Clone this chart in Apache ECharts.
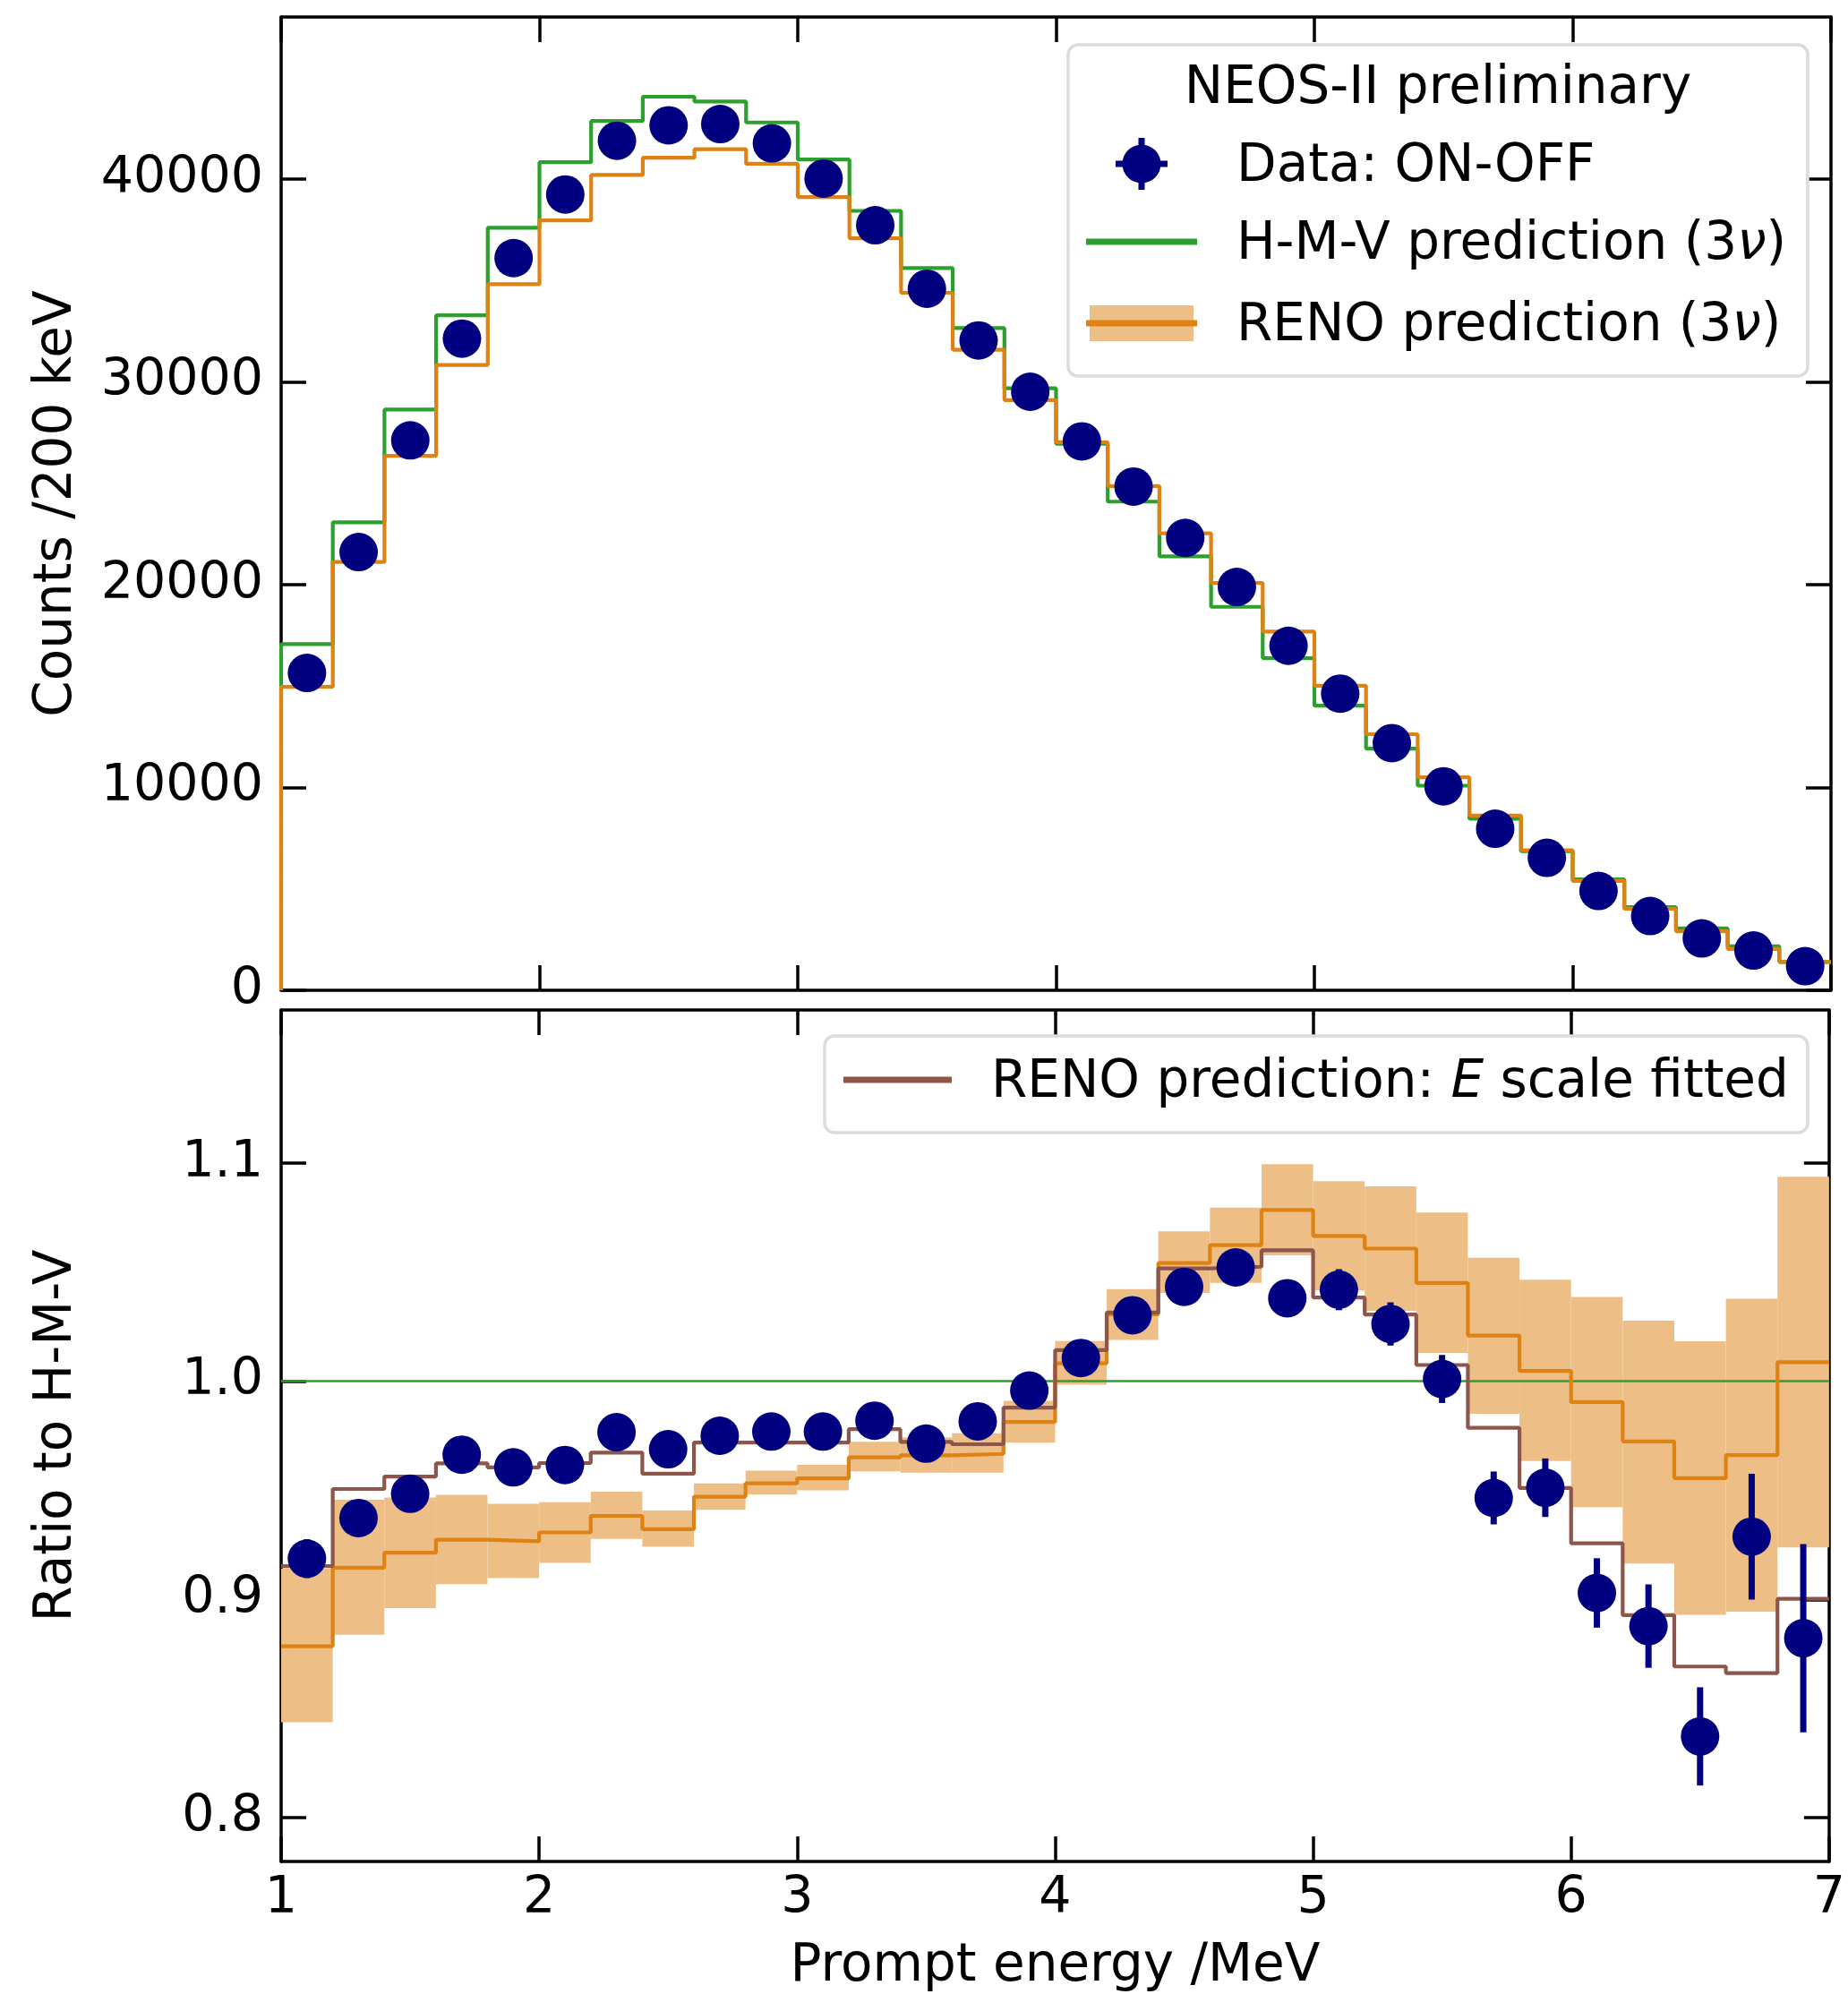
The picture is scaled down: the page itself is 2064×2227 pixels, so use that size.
<!DOCTYPE html>
<html>
<head>
<meta charset="utf-8">
<script src="https://cdn.jsdelivr.net/npm/echarts@6/dist/echarts.min.js"></script>
<style>
    html, body { margin: 0; padding: 0; background: #fff; }
    #chart { width: 2064px; height: 2227px; }
</style>
</head>
<body>
<div id="chart"></div>
<script>
// 200 keV bins, 1 - 7 MeV
const binEdges = [1.0, 1.2, 1.4, 1.6, 1.8, 2.0, 2.2, 2.4, 2.6, 2.8, 3.0, 3.2, 3.4, 3.6, 3.8, 4.0,
    4.2, 4.4, 4.6, 4.8, 5.0, 5.2, 5.4, 5.6, 5.8, 6.0, 6.2, 6.4, 6.6, 6.8, 7.0];
const binCenters = [1.1, 1.3, 1.5, 1.7, 1.9, 2.1, 2.3, 2.5, 2.7, 2.9, 3.1, 3.3, 3.5, 3.7, 3.9,
    4.1, 4.3, 4.5, 4.7, 4.9, 5.1, 5.3, 5.5, 5.7, 5.9, 6.1, 6.3, 6.5, 6.7, 6.9];

// top panel: counts / 200 keV
const countsHMV = [17070, 23080, 28640, 33290, 37610, 40840, 42870, 44070, 43830, 42800, 40970, 38440,
    35620, 32660, 29690, 26950, 24100, 21400, 18910, 16380, 14040, 11920, 10090, 8460, 6860, 5470,
    4100, 3050, 2170, 1400];
const countsRENO = [14960, 21120, 26360, 30840, 34820, 37970, 40210, 41060, 41480, 40760, 39120, 37090,
    34400, 31590, 29110, 27030, 24870, 22540, 20090, 17690, 15020, 12630, 10500, 8620, 6910, 5390,
    4020, 2910, 2040, 1390];
const countsData = [15650, 21610, 27120, 32140, 36110, 39250, 41900, 42660, 42720, 41770, 40030, 37730,
    34600, 32050, 29520, 27070, 24840, 22310, 19890, 16990, 14630, 12190, 10060, 7970, 6530, 4900,
    3660, 2560, 1960, 1190];
const countsDataErr = [180, 200, 220, 230, 240, 250, 260, 260, 260, 260, 250, 240, 240, 230, 220,
    210, 200, 190, 180, 170, 160, 150, 140, 130, 120, 110, 100, 90, 80, 70];

// bottom panel: ratio to H-M-V
const ratioData = [0.9187, 0.9373, 0.9484, 0.9663, 0.9605, 0.9616, 0.9766, 0.9688, 0.9750, 0.9769,
    0.9769, 0.9819, 0.9714, 0.9816, 0.9957, 1.0106, 1.0302, 1.0432, 1.0521, 1.0380, 1.0419, 1.0262,
    1.0010, 0.9465, 0.9512, 0.9030, 0.8878, 0.8373, 0.9288, 0.8823];
const ratioDataErr = [0.0089, 0.0072, 0.0062, 0.0058, 0.0056, 0.0055, 0.0055, 0.0055, 0.0056, 0.0057,
    0.0058, 0.0059, 0.0060, 0.0061, 0.0062, 0.0064, 0.0070, 0.0074, 0.0078, 0.0086, 0.0094, 0.0099,
    0.0110, 0.0121, 0.0134, 0.0159, 0.0191, 0.0225, 0.0288, 0.0431];
const ratioRENO = [0.8786, 0.9146, 0.9214, 0.9274, 0.9267, 0.9307, 0.9383, 0.9322, 0.9471, 0.9532,
    0.9555, 0.9651, 0.9660, 0.9667, 0.9813, 1.0082, 1.0306, 1.0541, 1.0623, 1.0784, 1.0665, 1.0607,
    1.0450, 1.0209, 1.0047, 0.9904, 0.9724, 0.9556, 0.9661, 1.0087];
const ratioRENOLow = [0.8438, 0.8839, 0.8961, 0.9070, 0.9098, 0.9168, 0.9277, 0.9241, 0.9411, 0.9481,
    0.9500, 0.9587, 0.9581, 0.9581, 0.9718, 0.9984, 1.0189, 1.0404, 1.0450, 1.0576, 1.0414, 1.0322,
    1.0129, 0.9850, 0.9634, 0.9423, 0.9165, 0.8930, 0.8944, 0.9238];
const ratioRENOHigh = [0.9141, 0.9457, 0.9467, 0.9479, 0.9438, 0.9446, 0.9494, 0.9408, 0.9532, 0.9590,
    0.9617, 0.9722, 0.9743, 0.9761, 0.9910, 1.0184, 1.0422, 1.0686, 1.0795, 1.0994, 1.0916, 1.0892,
    1.0772, 1.0565, 1.0465, 1.0386, 1.0277, 1.0183, 1.0377, 1.0936];
const ratioRENOFitted = [0.9153, 0.9506, 0.9563, 0.9623, 0.9605, 0.9625, 0.9673, 0.9576, 0.9719, 0.9719,
    0.9719, 0.9780, 0.9722, 0.9711, 0.9879, 1.0142, 1.0314, 1.0516, 1.0524, 1.0599, 1.0383, 1.0305,
    1.0074, 0.9786, 0.9511, 0.9257, 0.8928, 0.8693, 0.8663, 0.9003];
const ratioHMV = 1.0;

const energyTicks = [1, 2, 3, 4, 5, 6, 7];
const countsTicks = [0, 10000, 20000, 30000, 40000];
const ratioTicks = [0.8, 0.9, 1.0, 1.1];

const NAVY = '#000080';
const GREEN = '#2ca02c';
const ORANGE = '#df8214';
const BAND = '#edbf87';
const BROWN = '#8c564b';
const FONT = 'DejaVu Sans';
const FS = 58;       // legend and axis titles
const FS_TICK = 57;  // tick labels

// histogram outline for a step line, optionally starting from 0
const stepData = (vals, fromZero) => {
    const pts = fromZero ? [[binEdges[0], 0]] : [];
    vals.forEach((v, i) => pts.push([binEdges[i], v]));
    pts.push([binEdges[binEdges.length - 1], vals[vals.length - 1]]);
    return pts;
};

const stepSeries = (vals, color, grid, fromZero, z) => ({
    type: 'line',
    step: 'end',
    xAxisIndex: grid * 2,
    yAxisIndex: grid * 2,
    data: stepData(vals, fromZero),
    symbol: 'none',
    lineStyle: { color: color, width: 4.2 },
    z: z,
    silent: true
});

const errorBars = (vals, errs, grid) => ({
    type: 'custom',
    xAxisIndex: grid * 2,
    yAxisIndex: grid * 2,
    data: binCenters.map((c, i) => [c, vals[i] - errs[i], vals[i] + errs[i]]),
    renderItem: (params, api) => {
        const a = api.coord([api.value(0), api.value(1)]);
        const b = api.coord([api.value(0), api.value(2)]);
        return {
            type: 'line',
            shape: { x1: a[0], y1: a[1], x2: b[0], y2: b[1] },
            style: { stroke: NAVY, lineWidth: 7 }
        };
    },
    z: 8,
    silent: true
});

const dots = (vals, grid) => ({
    type: 'scatter',
    xAxisIndex: grid * 2,
    yAxisIndex: grid * 2,
    data: binCenters.map((c, i) => [c, vals[i]]),
    symbol: 'circle',
    symbolSize: 43,
    itemStyle: { color: NAVY, opacity: 1 },
    z: 9,
    silent: true
});

const axisLineStyle = { show: true, onZero: false, lineStyle: { color: '#000', width: 3.5 } };
const tickStyle = (vals) => ({
    show: true, inside: true, length: 28, customValues: vals,
    lineStyle: { color: '#000', width: 3.5 }
});

const xAxisFor = (grid, position, showLabels) => ({
    type: 'value',
    gridIndex: grid,
    position: position,
    min: 1,
    max: 7,
    interval: 1,
    axisLine: axisLineStyle,
    axisTick: tickStyle(energyTicks),
    axisLabel: {
        show: showLabels,
        customValues: energyTicks,
        margin: 14,
        fontSize: FS_TICK,
        fontFamily: FONT,
        color: '#000'
    },
    splitLine: { show: false },
    name: showLabels ? 'Prompt energy /MeV' : '',
    nameLocation: 'middle',
    nameGap: 89,
    nameTextStyle: { fontSize: FS, fontFamily: FONT, color: '#000' }
});

const yAxisFor = (grid, position, min, max, ticks, fmt, name) => ({
    type: 'value',
    gridIndex: grid,
    position: position,
    min: min,
    max: max,
    axisLine: axisLineStyle,
    axisTick: tickStyle(ticks),
    axisLabel: {
        show: position === 'left',
        customValues: ticks,
        formatter: fmt,
        margin: 20,
        fontSize: FS_TICK,
        fontFamily: FONT,
        color: '#000'
    },
    splitLine: { show: false },
    name: position === 'left' ? name : '',
    nameLocation: 'middle',
    nameGap: 221,
    nameTextStyle: { fontSize: FS, fontFamily: FONT, color: '#000' }
});

// legend boxes drawn with graphic elements
const txt = (x, y, rich, text, align) => ({
    type: 'text',
    x: x,
    y: y,
    z: 100,
    style: {
        text: text,
        fontSize: FS,
        fontFamily: FONT,
        fill: '#000',
        textAlign: align || 'left',
        textVerticalAlign: 'middle',
        rich: rich
    }
});
const richStyles = {
    n: { fontSize: FS, fontFamily: FONT, color: '#000' },
    i: { fontSize: FS, fontFamily: FONT, fontStyle: 'italic', color: '#000' }
};

const legendGraphics = [
    {
        type: 'rect', z: 99,
        shape: { x: 1193, y: 50, width: 826, height: 370, r: 11 },
        style: { fill: 'rgba(255,255,255,0.8)', stroke: '#dcdcdc', lineWidth: 3.5 }
    },
    txt(1606, 100, null, 'NEOS-II preliminary', 'center'),
    { type: 'line', z: 100, shape: { x1: 1275, y1: 154, x2: 1275, y2: 212 }, style: { stroke: NAVY, lineWidth: 7 } },
    { type: 'line', z: 100, shape: { x1: 1246, y1: 183, x2: 1304, y2: 183 }, style: { stroke: NAVY, lineWidth: 7 } },
    { type: 'circle', z: 101, shape: { cx: 1275, cy: 183, r: 21.5 }, style: { fill: NAVY } },
    txt(1381, 187, null, 'Data: ON-OFF'),
    { type: 'line', z: 100, shape: { x1: 1213, y1: 270, x2: 1337, y2: 270 }, style: { stroke: GREEN, lineWidth: 7 } },
    txt(1381, 274, richStyles, '{n|H-M-V prediction (3}{i|ν}{n|)}'),
    { type: 'rect', z: 100, shape: { x: 1217, y: 341, width: 116, height: 40 }, style: { fill: BAND } },
    { type: 'line', z: 101, shape: { x1: 1213, y1: 361, x2: 1337, y2: 361 }, style: { stroke: ORANGE, lineWidth: 7 } },
    txt(1381, 365, richStyles, '{n|RENO prediction (3}{i|ν}{n|)}'),

    {
        type: 'rect', z: 99,
        shape: { x: 921, y: 1157, width: 1098, height: 108, r: 11 },
        style: { fill: 'rgba(255,255,255,0.8)', stroke: '#dcdcdc', lineWidth: 3.5 }
    },
    { type: 'line', z: 100, shape: { x1: 942, y1: 1206, x2: 1063, y2: 1206 }, style: { stroke: BROWN, lineWidth: 7 } },
    txt(1107, 1210, richStyles, '{n|RENO prediction: }{i|E}{n| scale fitted}')
];

const chart = echarts.init(document.getElementById('chart'), null, { renderer: 'canvas' });

const option = {
    animation: false,
    backgroundColor: '#fff',
    grid: [
        { left: 314, top: 19, width: 1731, height: 1087 },
        { left: 314, top: 1128, width: 1731, height: 952 }
    ],
    xAxis: [
        xAxisFor(0, 'bottom', false),
        xAxisFor(0, 'top', false),
        xAxisFor(1, 'bottom', true),
        xAxisFor(1, 'top', false)
    ],
    yAxis: [
        yAxisFor(0, 'left', 0, 48000, countsTicks, (v) => String(v), 'Counts /200 keV'),
        yAxisFor(0, 'right', 0, 48000, countsTicks, (v) => String(v), ''),
        yAxisFor(1, 'left', 0.78, 1.17, ratioTicks, (v) => v.toFixed(1), 'Ratio to H-M-V'),
        yAxisFor(1, 'right', 0.78, 1.17, ratioTicks, (v) => v.toFixed(1), '')
    ],
    series: [
        // top panel
        stepSeries(countsHMV, GREEN, 0, true, 3),
        stepSeries(countsRENO, ORANGE, 0, true, 4),
        errorBars(countsData, countsDataErr, 0),
        dots(countsData, 0),

        // bottom panel
        {
            type: 'custom',
            xAxisIndex: 2,
            yAxisIndex: 2,
            data: ratioRENO.map((v, i) => [binEdges[i], binEdges[i + 1], ratioRENOLow[i], ratioRENOHigh[i]]),
            renderItem: (params, api) => {
                const p0 = api.coord([api.value(0), api.value(3)]);
                const p1 = api.coord([api.value(1), api.value(2)]);
                return {
                    type: 'rect',
                    shape: { x: p0[0], y: p0[1], width: p1[0] - p0[0], height: p1[1] - p0[1] },
                    style: { fill: BAND }
                };
            },
            z: 1,
            silent: true
        },
        {
            type: 'line',
            xAxisIndex: 2,
            yAxisIndex: 2,
            data: [[binEdges[0], ratioHMV], [binEdges[binEdges.length - 1], ratioHMV]],
            symbol: 'none',
            lineStyle: { color: GREEN, width: 2.5 },
            z: 2,
            silent: true
        },
        stepSeries(ratioRENO, ORANGE, 1, false, 3),
        stepSeries(ratioRENOFitted, BROWN, 1, false, 4),
        errorBars(ratioData, ratioDataErr, 1),
        dots(ratioData, 1)
    ],
    graphic: { elements: legendGraphics }
};

chart.setOption(option);
</script>
</body>
</html>
